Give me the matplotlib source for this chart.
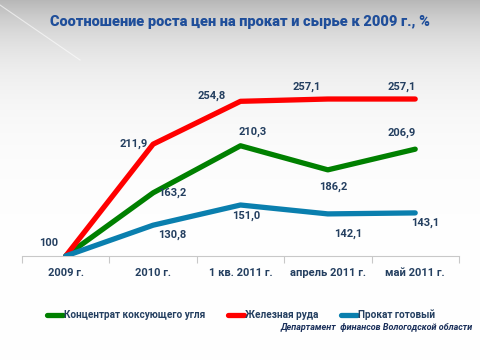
import matplotlib.pyplot as plt
import numpy as np

categories = ["2009 г.", "2010 г.", "1 кв. 2011 г.", "апрель 2011 г.", "май 2011 г."]
coal = [100, 163.2, 210.3, 186.2, 206.9]
ore = [100, 211.9, 254.8, 257.1, 257.1]
rolled = [100, 130.8, 151.0, 142.1, 143.1]

coal_labels = ["", "163,2", "210,3", "186,2", "206,9"]
ore_labels = ["100", "211,9", "254,8", "257,1", "257,1"]
rolled_labels = ["", "130,8", "151,0", "142,1", "143,1"]

plt.rcParams['font.family'] = ['Roboto', 'DejaVu Sans']
navy = '#243f60'

fig = plt.figure(figsize=(4.8, 3.6), dpi=100)

# background gradient
bg = fig.add_axes([0, 0, 1, 1], zorder=-10)
rows = np.arange(360)
shade = 1 - 0.28 * np.exp(-rows / 50)
img = np.repeat(np.stack([shade, shade, shade], axis=-1)[:, None, :], 480, axis=1)
bg.imshow(img, aspect='auto', extent=[0, 480, 360, 0])
bg.plot([0, 80], [5, 60], color='white', lw=0.8, alpha=0.6)
bg.set_xlim(0, 480)
bg.set_ylim(360, 0)
bg.axis('off')

ax = fig.add_axes([0.046, 0.289, 0.91, 0.555])
ax.patch.set_alpha(0)
x = np.arange(len(categories))

ax.plot(x, coal, color='#008000', lw=3.8, solid_joinstyle='round', solid_capstyle='round', label='Концентрат коксующего угля', zorder=3)
ax.plot(x, ore, color='#ff0000', lw=3.8, solid_joinstyle='round', solid_capstyle='round', label='Железная руда', zorder=3)
ax.plot(x, rolled, color='#0a7fae', lw=3.8, solid_joinstyle='round', solid_capstyle='round', label='Прокат готовый', zorder=4)

ax.set_xlim(-0.5, 4.5)
ax.set_ylim(100, 300)

lab = dict(color=navy, fontsize=8, fontweight='bold', ha='center', va='center')
# offsets in points (dx, dy)
ore_off = [(-12, 9), (-14, 0), (-21, 4), (-15, 9), (-10, 9)]
coal_off = [(0, 0), (14, 0), (9, 10), (4, -12), (-10, 12)]
rolled_off = [(0, 0), (14, -7), (4, -8), (15, -14), (7, -7)]
for vals, labels, offs in [(ore, ore_labels, ore_off), (coal, coal_labels, coal_off), (rolled, rolled_labels, rolled_off)]:
    for i, (v, t) in enumerate(zip(vals, labels)):
        if t:
            ax.annotate(t, (i, v), xytext=offs[i], textcoords='offset points', **lab)

ax.set_yticks([])
ax.set_xticks(np.arange(-0.5, 5, 1))
ax.set_xticklabels([])
ax.set_xticks(x, minor=True)
ax.set_xticklabels(categories, minor=True)
ax.tick_params(axis='x', which='major', length=5, color='#c8c8c8', width=0.8)
ax.tick_params(axis='x', which='minor', length=0, pad=9, labelsize=8, labelcolor=navy)
for t in ax.get_xticklabels(minor=True):
    t.set_fontweight('bold')
for s in ['top', 'right', 'left']:
    ax.spines[s].set_visible(False)
ax.spines['bottom'].set_color('#c8c8c8')
ax.spines['bottom'].set_linewidth(0.8)

fig.text(0.5, 0.938, "Соотношение роста цен на прокат и сырье к 2009 г., %", ha='center', va='center',
         fontsize=10.5, fontweight='heavy', color='#1f4e9a')

leg = fig.legend(loc='center', bbox_to_anchor=(0.502, 0.125), ncol=3, frameon=False,
                 fontsize=7.2, handlelength=1.6, handletextpad=0.1, columnspacing=2.3)
for t in leg.get_texts():
    t.set_color(navy)
    t.set_fontweight('bold')

fig.text(0.985, 0.09, "Департамент  финансов Вологодской области", ha='right', va='center',
         fontsize=6.5, fontweight='bold', style='italic', color='#1a2f5a')

fig.savefig('out.png', dpi=100)
